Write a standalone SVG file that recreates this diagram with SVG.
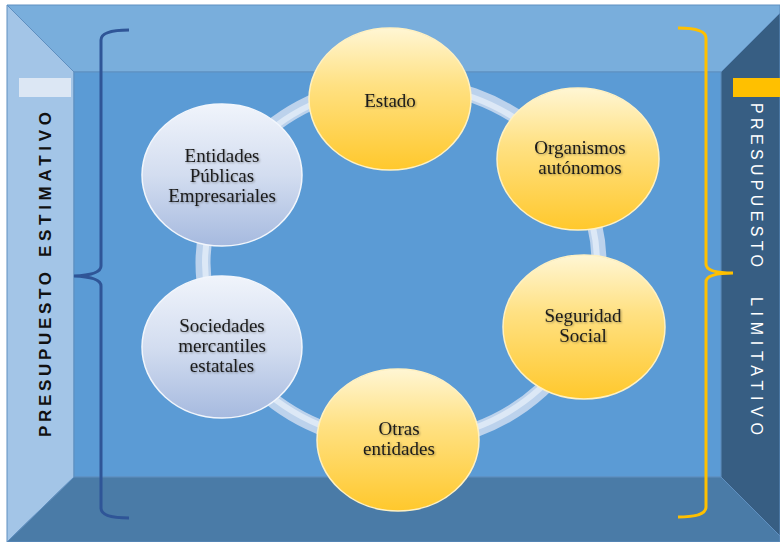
<svg xmlns="http://www.w3.org/2000/svg" width="780" height="542" viewBox="0 0 780 542">
<style>
.lbl{font-family:"Liberation Serif","Times New Roman",serif;font-size:19px;fill:#1a1a1a;text-anchor:middle;filter:url(#ts)}
.yel{fill:url(#gY);stroke:#fff1c2;stroke-width:1.5}
.blu{fill:url(#gB);stroke:#f2f6fc;stroke-width:1.5}
.side{font-family:"Liberation Sans",Arial,sans-serif;font-size:16px}
</style>
<defs>
<linearGradient id="gY" x1="0" y1="0" x2="0" y2="1">
<stop offset="0" stop-color="#fff6d4"/>
<stop offset="0.4" stop-color="#ffe183"/>
<stop offset="1" stop-color="#ffc82c"/>
</linearGradient>
<linearGradient id="gB" x1="0" y1="0" x2="0" y2="1">
<stop offset="0" stop-color="#f0f4fb"/>
<stop offset="0.5" stop-color="#d3ddf0"/>
<stop offset="1" stop-color="#a6badf"/>
</linearGradient>
<filter id="ts" x="-10%" y="-30%" width="120%" height="160%">
<feDropShadow dx="1" dy="1" stdDeviation="1" flood-color="#000" flood-opacity="0.35"/>
</filter>
</defs>
<rect width="780" height="542" fill="#ffffff"/>
<g id="box" stroke="#5f8fc0" stroke-width="1">
<polygon points="7,5 780,5 780,13 721,72 74,72" fill="#79aedc"/>
<polygon points="7,5 74,72 74,477 7,542" fill="#a3c5e7"/>
<rect x="74" y="72" width="647" height="405" fill="#5b9bd5"/>
<polygon points="74,477 721,477 780,536 780,542 7,542" fill="#4a7ba7"/>
<polygon points="721,72 780,13 780,536 721,477" fill="#375e83"/>
</g>
<rect x="19" y="78" width="52" height="19" fill="#dce7f4"/>
<rect x="733" y="78" width="47" height="19" fill="#ffc000"/>
<g id="left-label" class="side" font-weight="bold" fill="#111">
<text transform="translate(51,437) rotate(-90)" font-size="17" textLength="165" lengthAdjust="spacing">PRESUPUESTO</text>
<text transform="translate(51,257) rotate(-90)" font-size="17" textLength="145" lengthAdjust="spacing">ESTIMATIVO</text>
</g>
<g id="right-label" class="side" fill="#ffffff">
<text transform="translate(751,103) rotate(90)" textLength="164" lengthAdjust="spacing">PRESUPUESTO</text>
<text transform="translate(751,297) rotate(90)" textLength="138" lengthAdjust="spacing">LIMITATIVO</text>
</g>
<g id="connectors">
<ellipse cx="401" cy="263" rx="198" ry="180" fill="none" stroke="#bcd2ec" stroke-width="15"/>
<ellipse cx="401" cy="263" rx="196" ry="178" fill="none" stroke="#dce8f6" stroke-width="6"/>
<path d="M129,30 Q101,30 101,40 L101,266 Q101,275 74,276 Q101,277 101,286 L101,508 Q101,518 129,518" fill="none" stroke="#2f5597" stroke-width="3"/>
<path d="M678,28 Q706,28 706,38 L706,264 Q706,273 733,273 Q706,273 706,282 L706,507 Q706,517 678,517" fill="none" stroke="#ffc000" stroke-width="3"/>
</g>
<g id="estado"><ellipse class="yel" cx="390" cy="99" rx="81" ry="71"/><text class="lbl" x="390" y="107">Estado</text></g>
<g id="organismos"><ellipse class="yel" cx="578" cy="159" rx="81" ry="71"/><text class="lbl" x="580" y="154">Organismos</text><text class="lbl" x="580" y="174">autónomos</text></g>
<g id="seguridad"><ellipse class="yel" cx="584" cy="327" rx="81" ry="72"/><text class="lbl" x="583" y="322">Seguridad</text><text class="lbl" x="583" y="342">Social</text></g>
<g id="otras"><ellipse class="yel" cx="398" cy="440" rx="81" ry="71"/><text class="lbl" x="399" y="435">Otras</text><text class="lbl" x="399" y="455">entidades</text></g>
<g id="sociedades"><ellipse class="blu" cx="222" cy="347" rx="80" ry="71"/><text class="lbl" x="222" y="332">Sociedades</text><text class="lbl" x="222" y="352">mercantiles</text><text class="lbl" x="222" y="372">estatales</text></g>
<g id="entidades"><ellipse class="blu" cx="222" cy="175" rx="80" ry="71"/><text class="lbl" x="222" y="162">Entidades</text><text class="lbl" x="222" y="182">Públicas</text><text class="lbl" x="222" y="202">Empresariales</text></g>
</svg>
